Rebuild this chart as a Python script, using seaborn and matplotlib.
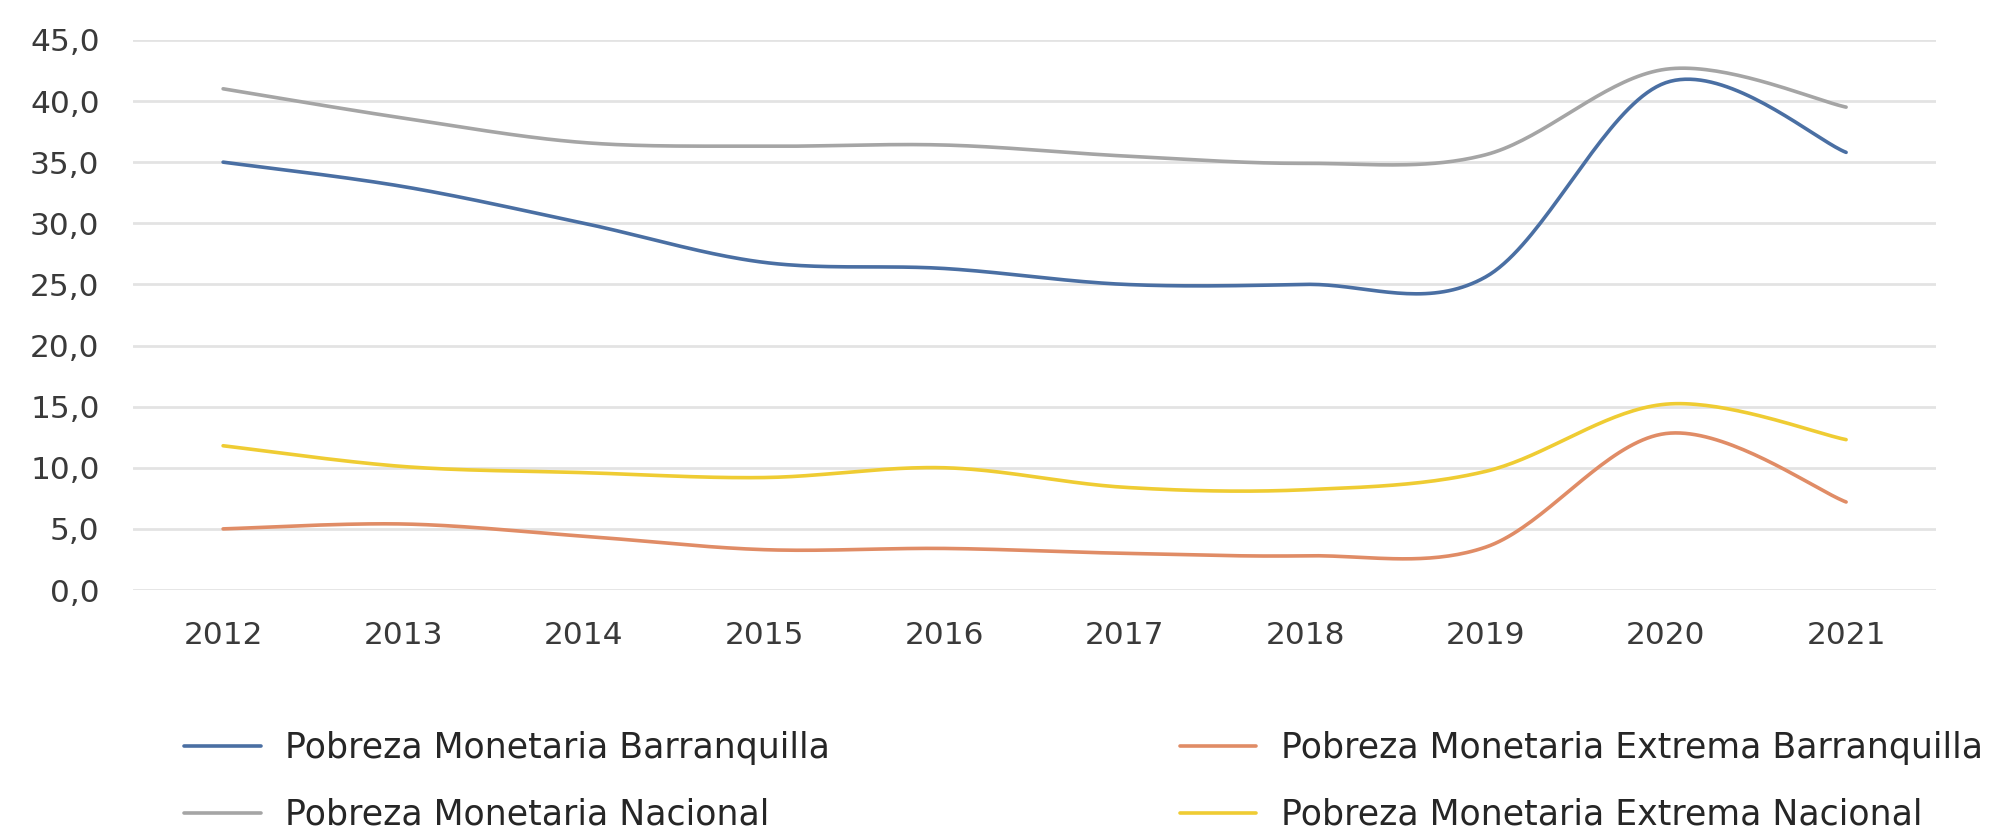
import numpy as np
import pandas as pd
import matplotlib
matplotlib.use("Agg")
import matplotlib.pyplot as plt
import seaborn as sns

# datos
years = [2012, 2013, 2014, 2015, 2016, 2017, 2018, 2019, 2020, 2021]
pobreza_barranquilla = [35.0, 33.0, 30.0, 26.8, 26.3, 25.0, 25.0, 25.6, 41.5, 35.8]
pobreza_nacional = [41.0, 38.6, 36.6, 36.3, 36.4, 35.5, 34.9, 35.6, 42.6, 39.5]
extrema_barranquilla = [5.0, 5.4, 4.4, 3.3, 3.4, 3.0, 2.8, 3.5, 12.8, 7.2]
extrema_nacional = [11.8, 10.1, 9.6, 9.2, 10.0, 8.4, 8.2, 9.7, 15.2, 12.3]

labels = ["Pobreza Monetaria Barranquilla", "Pobreza Monetaria Nacional",
          "Pobreza Monetaria Extrema Barranquilla", "Pobreza Monetaria Extrema Nacional"]
series = [pobreza_barranquilla, pobreza_nacional, extrema_barranquilla, extrema_nacional]
colors = ["#4A6FA3", "#A5A5A5", "#E08C66", "#EFCC33"]


def smooth(x, y, n=40):
    # curva suavizada tipo Excel (Catmull-Rom) a partir de los puntos
    x = np.asarray(x, float)
    y = np.asarray(y, float)
    px = np.concatenate([[x[0]], x, [x[-1]]])
    py = np.concatenate([[y[0]], y, [y[-1]]])
    t = np.linspace(0, 1, n)
    xs, ys = [], []
    for i in range(1, len(px) - 2):
        for p, out in ((px, xs), (py, ys)):
            p0, p1, p2, p3 = p[i - 1], p[i], p[i + 1], p[i + 2]
            m1 = (p2 - p0) / 2
            m2 = (p3 - p1) / 2
            h00 = 2 * t**3 - 3 * t**2 + 1
            h10 = t**3 - 2 * t**2 + t
            h01 = -2 * t**3 + 3 * t**2
            h11 = t**3 - t**2
            out.extend(h00 * p1 + h10 * m1 + h01 * p2 + h11 * m2)
    return np.array(xs), np.array(ys)


sns.set_style("white")
plt.rcParams['font.family'] = ['DejaVu Sans']

fig = plt.figure(figsize=(19.9, 8.31), dpi=100)
ax = fig.add_axes([0.0668, 0.29, 0.9062, 0.662])

for vals, lab, col in zip(series, labels, colors):
    xs, ys = smooth(years, vals)
    sns.lineplot(x=xs, y=ys, color=col, linewidth=2.6, label=lab, ax=ax, sort=False)

ax.set_xlim(2011.5, 2021.5)
ax.set_ylim(0, 45)
ax.set_xticks(years)
ax.set_xticklabels([str(y) for y in years])
ax.set_yticks(np.arange(0, 46, 5))
ax.set_yticklabels([f"{v:.1f}".replace(".", ",") for v in np.arange(0, 46, 5)])
ax.grid(axis="y", color="#E3E3E3", linewidth=2)
ax.grid(axis="x", visible=False)
for s in ax.spines.values():
    s.set_visible(False)
ax.tick_params(axis="y", length=0, pad=24, labelsize=22.5, labelcolor="#3A3A3A")
ax.tick_params(axis="x", length=0, pad=22, labelsize=22.5, labelcolor="#3A3A3A")
ax.set_xlabel("")
ax.set_ylabel("")

handles, labs = ax.get_legend_handles_labels()
ax.get_legend().remove()
fig.legend(handles, labs, loc="upper left", bbox_to_anchor=(0.077, 0.158), ncol=2,
           frameon=False, fontsize=25, handlelength=2.19, handletextpad=0.7,
           columnspacing=10.1, labelspacing=0.95, labelcolor="#262626")

fig.savefig("out.png", dpi=100)
